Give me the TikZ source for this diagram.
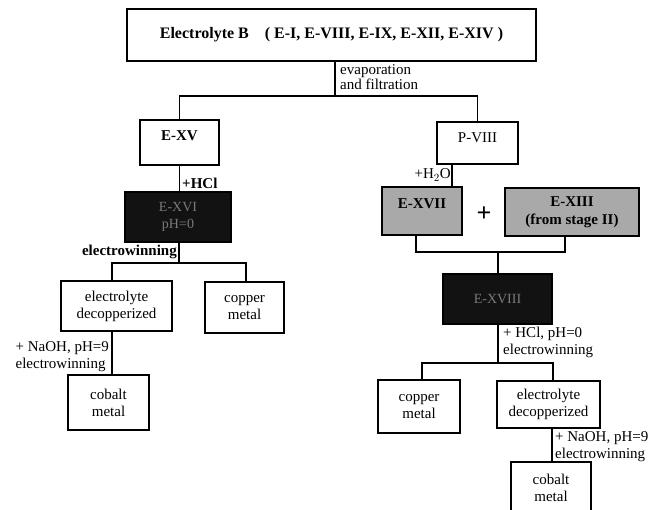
\documentclass[tikz,border=0pt]{standalone}
\usepackage{fontspec}
\setmainfont{Liberation Serif}
\usetikzlibrary{calc}
\definecolor{boxgray}{HTML}{A9A9A9}
\definecolor{darkfill}{HTML}{121212}
\definecolor{dimtext}{HTML}{7A7A7A}
\tikzset{
  base/.style={font=\fontsize{15}{17}\selectfont},
  box/.style={base,draw=black,line width=1.6pt,fill=white,align=center,inner sep=0pt},
  graybox/.style={box,fill=boxgray,font=\fontsize{15}{18}\selectfont\bfseries},
  darkbox/.style={box,fill=darkfill,text=dimtext,font=\fontsize{14}{17}\selectfont},
  conn/.style={line width=1.3pt},
  lbl/.style={base,inner sep=0pt,align=left},
  boldlbl/.style={lbl,font=\fontsize{15}{17}\selectfont\bfseries},
}
\begin{document}
\begin{tikzpicture}[x=1pt,y=-1pt]
\useasboundingbox[fill=white] (0,0) rectangle (648,510);

% boxes
\node[box,minimum width=409,minimum height=52,font=\fontsize{16}{18}\selectfont\bfseries] (top) at (331.5,35) {Electrolyte B\hspace{1em}( E-I, E-VIII, E-IX, E-XII, E-XIV )};
\node[box,minimum width=79,minimum height=45] (exv) at (179.5,142.5) {};
\node[boldlbl] (exvt) at (179.5,136) {E-XV};
\node[darkbox,minimum width=106,minimum height=50] (exvi) at (178,217) {E-XVI\\pH=0};
\node[box,minimum width=111,minimum height=50] (ed1) at (116.5,306) {electrolyte\\decopperized};
\node[box,minimum width=79,minimum height=51] (cu1) at (244.5,307.5) {copper\\metal};
\node[box,minimum width=81,minimum height=55] (co1) at (108.5,402.5) {cobalt\\metal};

\node[box,minimum width=81,minimum height=42] (pviii) at (477.5,143) {};
\node[lbl] (pviiit) at (477.5,138) {P-VIII};
\node[graybox,minimum width=80,minimum height=48] (exvii) at (422,211) {};
\node[boldlbl] (exviit) at (422,204) {E-XVII};
\node[font=\fontsize{26}{26}\selectfont\bfseries,inner sep=0pt] (plus) at (484,214) {+};
\node[graybox,minimum width=134,minimum height=48] (exiii) at (572,212) {E-XIII\\(from stage II)};
\node[darkbox,minimum width=109,minimum height=50] (exviii) at (497.5,299) {E-XVIII};
\node[box,minimum width=82,minimum height=53] (cu2) at (419,406.5) {copper\\metal};
\node[box,minimum width=103,minimum height=47] (ed2) at (548.5,404.5) {electrolyte\\decopperized};
\node[box,minimum width=80,minimum height=70] (co2) at (551,497) {};
\node[lbl,align=center] (co2t) at (551,488) {cobalt\\metal};

% junction coordinates
\coordinate (j1) at (335,96);
\coordinate (j2) at (179,263);
\coordinate (j2a) at (112,263);
\coordinate (j2b) at (246,263);
\coordinate (j3) at (112,0);
\coordinate (j4) at (452,0);
\coordinate (j5) at (498,252);
\coordinate (j5a) at (416,252);
\coordinate (j5b) at (565,252);
\coordinate (j6) at (498,363);
\coordinate (j6a) at (422,363);
\coordinate (j6b) at (553,363);
\coordinate (j7) at (552,0);

% connectors
\draw[conn] (j1 |- top.south) -- (j1);
\draw[conn] (exv.north) |- (j1) -| (pviii.north);
\draw[conn] (exv.south) -- (exv.south |- exvi.north);
\draw[conn] (j2 |- exvi.south) -- (j2);
\draw[conn] (j2a |- ed1.north) |- (j2b) -- (j2b |- cu1.north);
\draw[conn] (j3 |- ed1.south) -- (j3 |- co1.north);
\draw[conn] (j4 |- pviii.south) -- (j4 |- exvii.north);
\draw[conn] (j5a |- exvii.south) |- (j5b) -- (j5b |- exiii.south);
\draw[conn] (j5) -- (j5 |- exviii.north);
\draw[conn] (j6 |- exviii.south) -- (j6);
\draw[conn] (j6a |- cu2.north) |- (j6b) -- (j6b |- ed2.north);
\draw[conn] (j7 |- ed2.south) -- (j7 |- co2.north);

% labels
\node[lbl,anchor=north west,font=\fontsize{15}{15}\selectfont] (l1) at (340,64) {evaporation\\and filtration};
\node[boldlbl,anchor=west] (l2) at (182,183) {+HCl};
\node[boldlbl,anchor=south east] (l3) at (177,259) {electrowinning};
\node[lbl,anchor=east] (l4) at (109,357) {+ NaOH, pH=9\\electrowinning};
\node[lbl,anchor=east] (l5) at (451,175) {+H$_2$O};
\node[lbl,anchor=west] (l6) at (503,342) {+ HCl, pH=0\\electrowinning};
\node[lbl,anchor=west] (l7) at (555,447) {+ NaOH, pH=9\\electrowinning};
\end{tikzpicture}
\end{document}
